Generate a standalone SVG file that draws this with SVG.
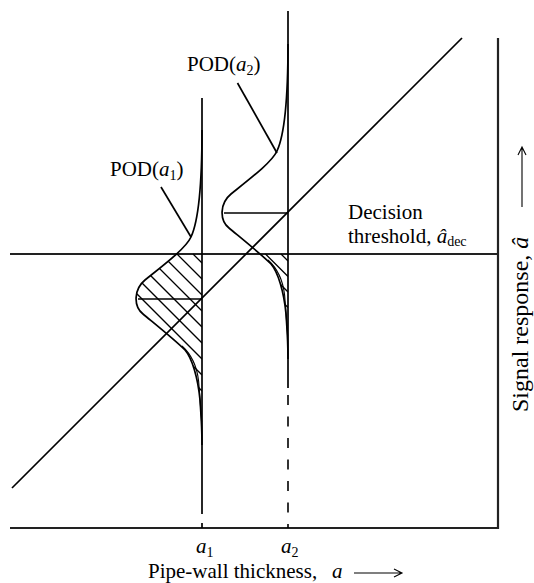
<svg xmlns="http://www.w3.org/2000/svg" width="534" height="583" viewBox="0 0 534 583">
<style>
  .ln{stroke:#000;stroke-width:1.7;fill:none}
  .ax{stroke:#222;stroke-width:2.2;fill:none}
  .thin{stroke:#000;stroke-width:1.1;fill:none}
  .hatch{stroke:#000;stroke-width:1.3;fill:none}
  .dash{stroke:#000;stroke-width:1.6;fill:none;stroke-dasharray:10 11.5}
  text{font-family:"Liberation Serif","Times New Roman",serif;font-size:21px;fill:#000}
  .it{font-style:italic}
  .sub{font-size:14px}
  .big{font-size:24px}
</style>
<defs>
  <path id="bell" d="M202,130 C202,190 198,222 191,237 C186,248 165,264 145,280 C134,289 133,306 143,314 C155,324 175,340 185,350 C192,358 198,378 200,400 C201,415 202,425 202,445"/>
  <path id="bellarea" d="M202,130 C202,190 198,222 191,237 C186,248 165,264 145,280 C134,289 133,306 143,314 C155,324 175,340 185,350 C192,358 198,378 200,400 C201,415 202,425 202,445 Z"/>
  <path id="inner" d="M182,346 C192,355 197,367 198.6,381 C199.6,393 200.6,406 201.6,422"/>
  <clipPath id="c1"><use href="#bellarea"/></clipPath>
  <clipPath id="c2"><use href="#bellarea" transform="translate(86,-86)"/></clipPath>
</defs>

<g id="axes">
  <line class="ax" x1="10" y1="528" x2="498" y2="528"/>
  <line class="ax" x1="498" y1="38" x2="498" y2="529"/>
</g>

<g id="threshold">
  <line class="ax" x1="10" y1="254" x2="498" y2="254"/>
</g>

<g id="trend-line">
  <line class="ln" x1="12" y1="488" x2="462" y2="38"/>
</g>

<g id="pod-a1">
  <line class="ln" x1="202" y1="98" x2="202" y2="514"/>
  <line class="ln" x1="202" y1="523" x2="202" y2="528"/>
  <use href="#bell" class="ln"/>
  <use href="#inner" class="thin"/>
  <line class="ln" x1="138" y1="299" x2="202" y2="299"/>
  <g clip-path="url(#c1)">
    <path class="hatch" d="M193,254 L202,263 M177,254 L202,279 M161,254 L202,295 M145,254 L202,311 M129,254 L202,327 M113,254 L202,343 M97,254 L202,359 M81,254 L202,375 M65,254 L202,391"/>
  </g>
</g>

<g id="pod-a2">
  <line class="ln" x1="288" y1="11" x2="288" y2="388"/>
  <line class="dash" x1="288" y1="395" x2="288" y2="528"/>
  <use href="#bell" class="ln" transform="translate(86,-86)"/>
  <use href="#inner" class="thin" transform="translate(86,-86)"/>
  <line class="ln" x1="224" y1="213" x2="288" y2="213"/>
  <g clip-path="url(#c2)">
    <path class="hatch" d="M281,254 L288,261 M265.5,254 L288,276.5 M250,254 L288,292 M234.5,254 L288,307.5"/>
  </g>
</g>

<g id="connectors">
  <line class="ln" x1="161" y1="187" x2="191" y2="237"/>
  <line class="ln" x1="237.5" y1="83" x2="277" y2="153"/>
</g>

<g id="labels">
  <text x="187" y="71">POD(<tspan class="it">a</tspan><tspan class="sub" dy="4">2</tspan><tspan dy="-4">)</tspan></text>
  <text x="110" y="176">POD(<tspan class="it">a</tspan><tspan class="sub" dy="4">1</tspan><tspan dy="-4">)</tspan></text>
  <text x="348" y="219">Decision</text>
  <text x="348" y="243">threshold, <tspan class="it">â</tspan><tspan class="sub" dy="3">dec</tspan></text>
  <text x="196" y="553"><tspan class="it">a</tspan><tspan class="sub" dy="4">1</tspan></text>
  <text x="281" y="553"><tspan class="it">a</tspan><tspan class="sub" dy="4">2</tspan></text>
  <text x="148" y="578">Pipe-wall thickness,</text>
  <text x="332" y="578" class="it">a</text>
  <text class="big" transform="translate(528,412) rotate(-90)">Signal response, <tspan class="it">â</tspan></text>
  <path class="thin" d="M354,573 L402,573 M394,569 L402,573 L394,577"/>
  <path class="thin" d="M522,207 L522,147 M518,155 L522,147 L526,155"/>
</g>
</svg>
